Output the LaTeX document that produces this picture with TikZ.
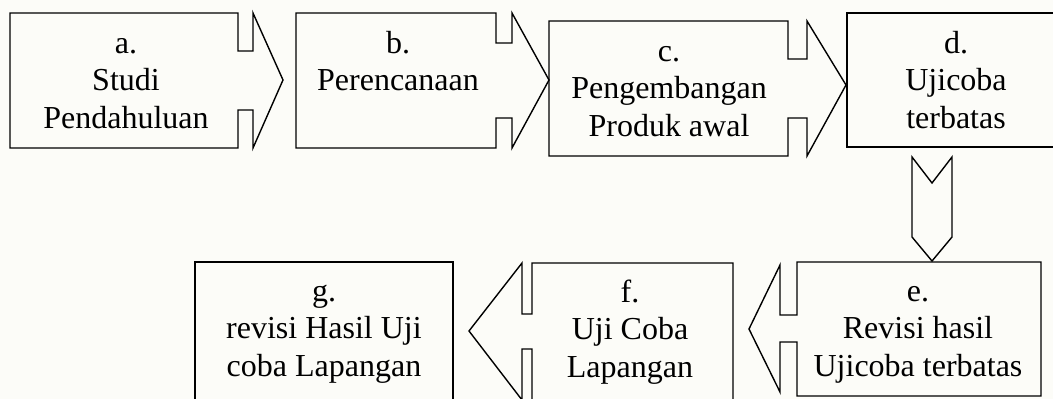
\documentclass[tikz,border=0pt]{standalone}
\usepackage{fontspec}
\setmainfont{Liberation Serif}
\definecolor{paper}{RGB}{252,252,248}
\begin{document}
\begin{tikzpicture}[x=1pt,y=-1pt,
  outline/.style={draw=black,line width=1.4pt,line join=miter},
  lbl/.style={anchor=north,inner sep=0pt,align=center,text=black,
              font=\fontsize{32}{37.5}\selectfont}]
\useasboundingbox (0,0) rectangle (1053,399);
\fill[paper] (0,0) rectangle (1053,399);
\clip (0,0) rectangle (1053,399);
% a: Studi Pendahuluan with right callout
\draw[outline] (10,13) -- (238,13) -- (238,51) -- (253,51) -- (253,13) -- (283,80)
  -- (253,148) -- (253,110) -- (238,110) -- (238,148) -- (10,148) -- cycle;
% b: Perencanaan with right callout
\draw[outline] (296,13) -- (496,13) -- (496,43) -- (512,43) -- (512,13) -- (549,80)
  -- (512,148) -- (512,118) -- (496,118) -- (496,148) -- (296,148) -- cycle;
% c: Pengembangan Produk awal with right callout
\draw[outline] (549,21) -- (788,21) -- (788,59) -- (807,59) -- (807,21) -- (846,85)
  -- (807,156) -- (807,118) -- (788,118) -- (788,156) -- (549,156) -- cycle;
% d: Ujicoba terbatas (right side runs off the page)
\draw[outline] (1075,13) -- (847,13) -- (847,147) -- (1075,147);
% down arrow d -> e
\draw[outline] (912,157) -- (932,183) -- (952,157) -- (952,237) -- (932,261) -- (912,237) -- cycle;
% e: Revisi hasil with left callout
\draw[outline] (1041,262) -- (797,262) -- (797,315) -- (780,315) -- (780,265) -- (749,329)
  -- (780,392) -- (780,342) -- (797,342) -- (797,396) -- (1041,396) -- cycle;
% f: Uji Coba Lapangan with left callout
\draw[outline] (733,412) -- (733,263) -- (532,263) -- (532,314) -- (522,314) -- (522,263)
  -- (469,331) -- (522,400) -- (522,349) -- (532,349) -- (532,412);
% g: revisi Hasil Uji coba Lapangan
\draw[outline] (195,412) -- (195,262) -- (453,262) -- (453,412);
% labels
\node[lbl] (a) at (126,26.75) {\strut a.\\Studi\\Pendahuluan};
\node[lbl] (b) at (398,26.75) {\strut b.\\Perencanaan};
\node[lbl] (c) at (669,34.75) {\strut c.\\Pengembangan\\Produk awal};
\node[lbl] (d) at (956,26.75) {\strut d.\\Ujicoba\\terbatas};
\node[lbl] (e) at (918,274.75) {\strut e.\\Revisi hasil\\Ujicoba terbatas};
\node[lbl] (f) at (630,275.75) {\strut f.\\Uji Coba\\Lapangan};
\node[lbl] (g) at (324,274.75) {\strut g.\\revisi Hasil Uji\\coba Lapangan};
\end{tikzpicture}
\end{document}
